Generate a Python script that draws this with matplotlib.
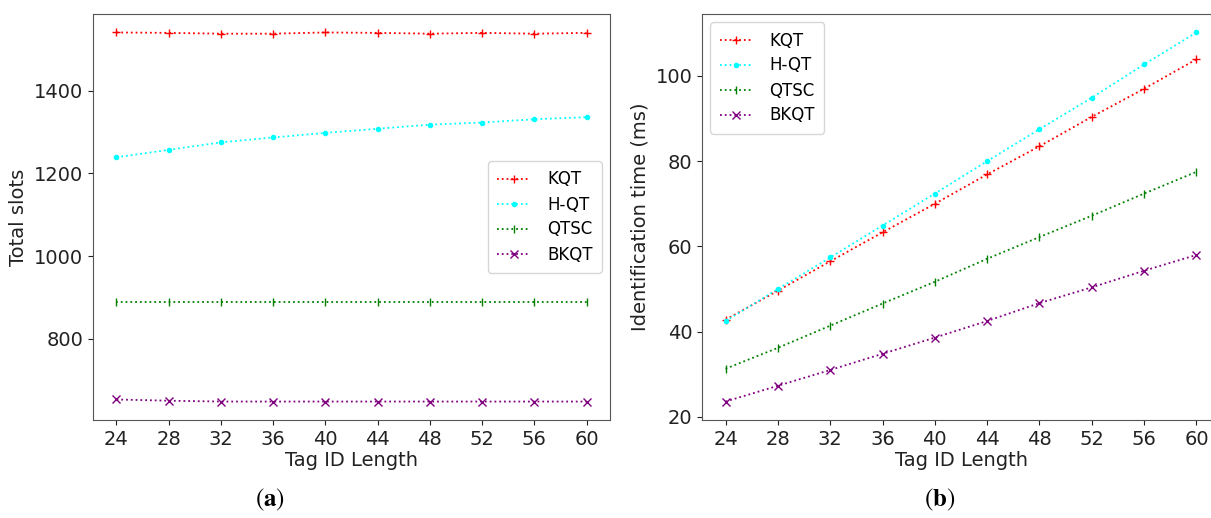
import matplotlib
matplotlib.use("Agg")
import matplotlib.pyplot as plt

# Tag ID lengths
tag_len = [24, 28, 32, 36, 40, 44, 48, 52, 56, 60]

# (a) total slots
slots_kqt = [1541, 1540, 1538, 1538, 1541, 1540, 1538, 1540, 1538, 1540]
slots_hqt = [1239, 1257, 1275, 1287, 1298, 1308, 1318, 1323, 1331, 1336]
slots_qtsc = [890, 890, 890, 890, 890, 890, 890, 890, 890, 890]
slots_bkqt = [653, 650, 648, 648, 648, 648, 648, 648, 648, 648]

# (b) identification time (ms)
time_kqt = [42.8, 49.6, 56.5, 63.3, 70.0, 76.9, 83.5, 90.4, 97.0, 103.9]
time_hqt = [42.5, 50.0, 57.4, 64.9, 72.4, 80.0, 87.5, 94.9, 102.7, 110.2]
time_qtsc = [31.3, 36.2, 41.4, 46.6, 51.7, 57.1, 62.2, 67.2, 72.4, 77.5]
time_bkqt = [23.6, 27.3, 31.0, 34.8, 38.6, 42.5, 46.7, 50.4, 54.3, 58.0]

labels = ['KQT', 'H-QT', 'QTSC', 'BKQT']
colors = ['red', 'cyan', 'green', 'purple']
markers = ['+', '.', '|', 'x']

W, H = 1211, 518
fig = plt.figure(figsize=(W / 100, H / 100), dpi=100)
plt.rcParams['font.family'] = ['DejaVu Sans']
plt.rcParams['mathtext.fontset'] = 'stix'
fs = 14
lfs = 12

ax1 = fig.add_axes([93 / W, 1 - 420 / H, (610 - 93) / W, (420 - 14) / H])
ax2 = fig.add_axes([702 / W, 1 - 420 / H, (1220 - 702) / W, (420 - 14) / H])


def draw(ax, series):
    for ys, lab, c, m in zip(series, labels, colors, markers):
        ax.plot(tag_len, ys, linestyle=':', color=c, marker=m, markersize=6,
                linewidth=1.3, label=lab)
    ax.set_xticks(tag_len)
    ax.tick_params(labelsize=fs, colors='#222222')
    ax.set_xlabel('Tag ID Length', fontsize=fs, color='#222222', labelpad=2)
    for s in ax.spines.values():
        s.set_color('#555555')


leg_kw = dict(fontsize=lfs, labelspacing=0.42, handlelength=2.0,
              borderpad=0.55, handletextpad=1.0)

draw(ax1, [slots_kqt, slots_hqt, slots_qtsc, slots_bkqt])
ax1.set_yticks([800, 1000, 1200, 1400])
ax1.set_ylabel('Total slots', fontsize=fs, color='#222222')
ax1.legend(loc='center right', bbox_to_anchor=(1.0, 0.50), **leg_kw)

draw(ax2, [time_kqt, time_hqt, time_qtsc, time_bkqt])
ax2.set_yticks([20, 40, 60, 80, 100])
ax2.set_ylabel('Identification time (ms)', fontsize=fs, color='#222222')
ax2.legend(loc='upper left', **leg_kw)

fig.text(270 / W, 1 - 500 / H, r'$(\mathbf{a})$', fontsize=18, ha='center',
         va='center')
fig.text(940 / W, 1 - 500 / H, r'$(\mathbf{b})$', fontsize=18, ha='center',
         va='center')

fig.savefig('out.png', dpi=100)
